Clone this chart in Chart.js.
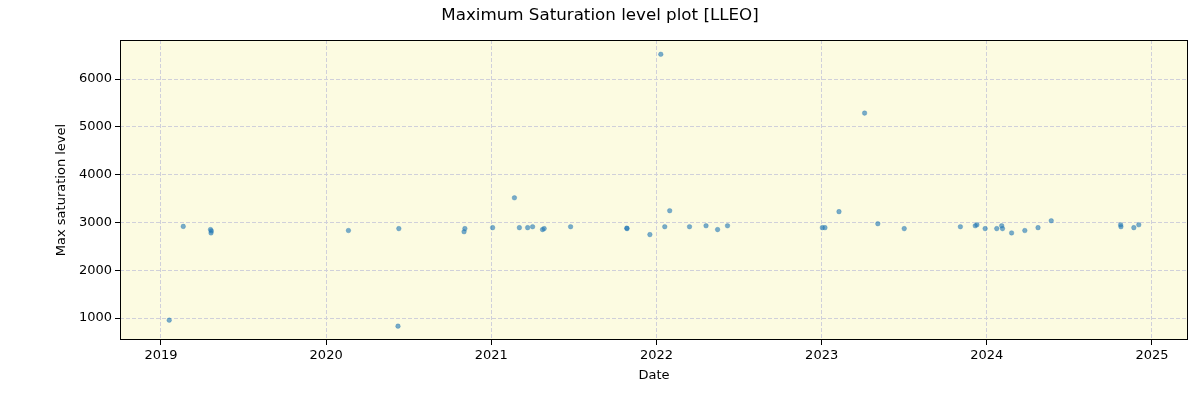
<!DOCTYPE html>
<html>
<head>
<meta charset="utf-8">
<script src="https://cdn.jsdelivr.net/npm/chart.js@4/dist/chart.umd.min.js"></script>
<style>
  html, body { margin: 0; padding: 0; background: #fff; }
  #satChart { display: block; }
</style>
</head>
<body>
<canvas id="satChart" width="1200" height="400"></canvas>
<script>
const dateYears = [
  2019.05, 2019.135, 2019.30, 2019.305, 2019.303, 2020.135, 2020.44, 2020.435,
  2020.835, 2020.84, 2021.008, 2021.14, 2021.17, 2021.22, 2021.25, 2021.31,
  2021.32, 2021.48, 2021.82, 2021.822, 2021.96, 2022.026, 2022.05, 2022.08,
  2022.20, 2022.30, 2022.37, 2022.43, 2023.004, 2023.02, 2023.105, 2023.26,
  2023.34, 2023.50, 2023.84, 2023.93, 2023.94, 2023.99, 2024.06, 2024.09,
  2024.095, 2024.15, 2024.23, 2024.31, 2024.39, 2024.81, 2024.812, 2024.89, 2024.92
];
const maxSaturation = [
  955, 2916, 2850, 2820, 2780, 2830, 2870, 830,
  2805, 2870, 2890, 3515, 2890, 2890, 2910, 2850,
  2870, 2910, 2880, 2870, 2745, 6517, 2910, 3245,
  2910, 2930, 2850, 2930, 2890, 2890, 3225, 5287,
  2973, 2870, 2910, 2930, 2950, 2870, 2870, 2930,
  2870, 2780, 2830, 2890, 3035, 2950, 2910, 2890, 2950
];
const yearTicks = [2019, 2020, 2021, 2022, 2023, 2024, 2025];
const levelTicks = [1000, 2000, 3000, 4000, 5000, 6000];

Chart.defaults.font.family = "'DejaVu Sans', sans-serif";
Chart.defaults.color = '#000';

const points = dateYears.map((d, i) => ({x: d, y: maxSaturation[i]}));

const frame = {
  id: 'frame',
  beforeDraw(chart) {
    const {ctx, chartArea: a} = chart;
    ctx.save();
    ctx.fillStyle = '#fcfbe1';
    ctx.fillRect(a.left, a.top, a.right - a.left, a.bottom - a.top);
    ctx.restore();
  },
  afterDraw(chart) {
    const {ctx, chartArea: a} = chart;
    ctx.save();
    ctx.strokeStyle = '#000';
    ctx.lineWidth = 1;
    ctx.strokeRect(a.left + 0.5, a.top + 0.5, a.right - a.left - 1, a.bottom - a.top - 1);
    ctx.fillStyle = '#000';
    ctx.font = "16.7px 'DejaVu Sans'";
    ctx.textAlign = 'center';
    ctx.textBaseline = 'middle';
    ctx.fillText('Maximum Saturation level plot [LLEO]', 600, 16);
    ctx.restore();
  }
};

const gridOpts = { color: '#d0d0da', tickColor: '#000', tickLength: 5, tickBorderDash: [] };

new Chart(document.getElementById('satChart').getContext('2d'), {
  type: 'scatter',
  data: {
    datasets: [{
      label: 'Max saturation level',
      data: points,
      backgroundColor: 'rgba(31,119,180,0.6)',
      borderColor: 'rgba(31,119,180,0.6)',
      borderWidth: 0.5,
      pointRadius: 2.3,
      pointHoverRadius: 2.3
    }]
  },
  options: {
    responsive: false,
    animation: false,
    layout: { padding: { top: 40, right: 12, left: 50, bottom: 13 } },
    plugins: {
      legend: { display: false },
      tooltip: { enabled: false }
    },
    scales: {
      x: {
        type: 'linear',
        min: 2018.752,
        max: 2025.218,
        afterBuildTicks: s => { s.ticks = yearTicks.map(v => ({value: v})); },
        afterFit: s => { s.height = 47; },
        ticks: { font: { size: 13 }, padding: 3, maxRotation: 0, callback: v => String(v) },
        grid: gridOpts,
        border: { display: false, dash: [4, 2] },
        title: { display: true, text: 'Date', font: { size: 13 } }
      },
      y: {
        min: 540,
        max: 6816,
        afterBuildTicks: s => { s.ticks = levelTicks.map(v => ({value: v})); },
        afterFit: s => { s.width = 70; },
        ticks: { font: { size: 13 }, padding: 3, callback: v => String(v) },
        grid: gridOpts,
        border: { display: false, dash: [4, 2] },
        title: { display: true, text: 'Max saturation level', font: { size: 13 } }
      }
    }
  },
  plugins: [frame]
});
</script>
</body>
</html>
